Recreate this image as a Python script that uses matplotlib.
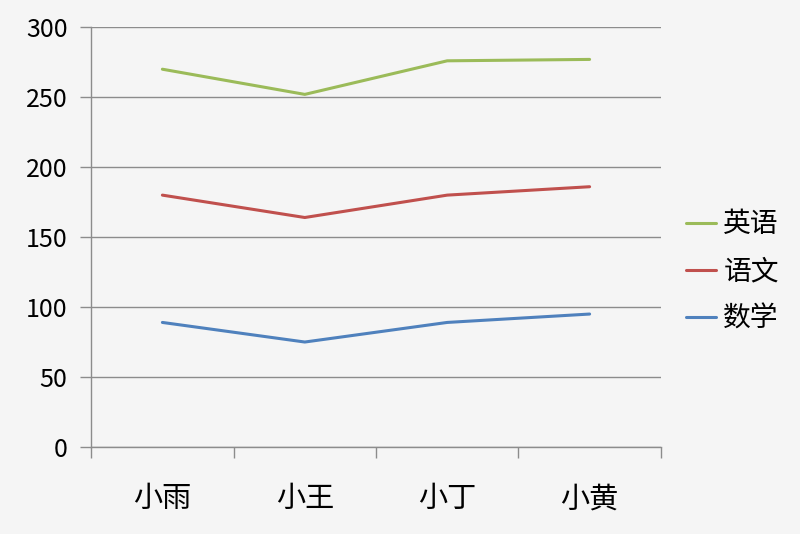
import numpy as np
import matplotlib.pyplot as plt

plt.rcParams['font.family'] = ['Noto Sans CJK SC', 'DejaVu Sans']

# Daten
namen = ['小雨', '小王', '小丁', '小黄']
englisch = [270, 252, 276, 277]
chinesisch = [180, 164, 180, 186]
mathe = [89, 75, 89, 95]
faecher = ['英语', '语文', '数学']
farben = ['#9bbb59', '#c0504d', '#4f81bd']

bg = '#f5f5f5'
fig = plt.figure(figsize=(8, 5.34), dpi=100, facecolor=bg)
ax = fig.add_axes([0.114, 0.163, 0.712, 0.786], facecolor=bg)

x = np.arange(len(namen))
for werte, name, c in zip([englisch, chinesisch, mathe], faecher, farben):
    ax.plot(x, werte, color=c, lw=2.2, label=name, solid_capstyle='round')

ax.set_xlim(-0.5, len(namen) - 0.5)
ax.set_ylim(0, 300)
ax.set_yticks(np.arange(0, 301, 50))
ax.yaxis.grid(True, color='#8c8c8c', lw=1.0)
ax.set_axisbelow(True)

ax.set_xticks(x)
ax.set_xticklabels(namen, fontsize=21)
ax.set_xticks(np.arange(-0.5, len(namen)), minor=True)
ax.tick_params(axis='x', which='major', length=0, pad=27)
ax.tick_params(axis='x', which='minor', length=8, color='#8c8c8c', width=1)
ax.tick_params(axis='y', length=8, color='#8c8c8c', width=1, pad=9, labelsize=18)

for s in ['top', 'right']:
    ax.spines[s].set_visible(False)
for s in ['left', 'bottom']:
    ax.spines[s].set_color('#8c8c8c')
    ax.spines[s].set_linewidth(1.0)

leg = ax.legend(loc='center left', bbox_to_anchor=(1.0, 0.418), frameon=False,
                fontsize=20, handlelength=1.1, handletextpad=0.25, labelspacing=0.62)

fig.savefig('out.png', dpi=100, facecolor=bg)
